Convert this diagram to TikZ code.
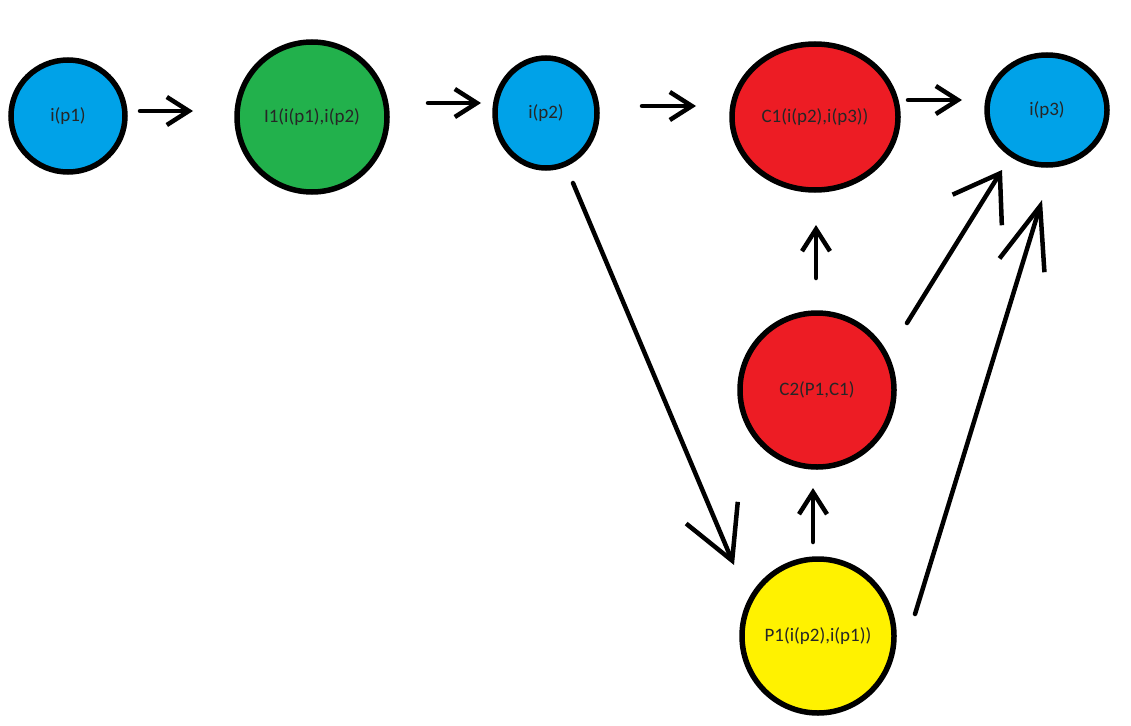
\documentclass[tikz,border=0pt]{standalone}
\usepackage{fontspec}
\setmainfont{Carlito}
\usetikzlibrary{shapes.geometric,arrows.meta,calc}

\definecolor{pblue}{RGB}{0,162,232}
\definecolor{pgreen}{RGB}{34,177,76}
\definecolor{pred}{RGB}{237,28,36}
\definecolor{pyellow}{RGB}{255,242,0}

\tikzset{
  blob/.style={ellipse, draw=black, line width=5.5pt, inner sep=0pt,
    font=\fontsize{19}{23}\selectfont, text=black!85},
  link/.style={line width=4.5pt, line cap=round, line join=round,
    -{Straight Barb[length=22pt,width=28pt]}},
}

\begin{document}
\begin{tikzpicture}[x=1pt,y=-1pt]
\useasboundingbox (0,0) rectangle (1131,725);

% operation nodes
\node[blob, fill=pblue, minimum width=114pt, minimum height=112pt] (ip1) at (68,116) {\makebox[0pt]{i(p1)}};
\node[blob, fill=pgreen, minimum width=150pt, minimum height=150pt] (I1) at (312,117) {\makebox[0pt]{I1(i(p1),i(p2)}};
\node[blob, fill=pblue, minimum width=102pt, minimum height=110pt] (ip2) at (546,113) {\makebox[0pt]{i(p2)}};
\node[blob, fill=pred, minimum width=166pt, minimum height=146pt] (C1) at (815,117) {\makebox[0pt]{C1(i(p2),i(p3))}};
\node[blob, fill=pblue, minimum width=120pt, minimum height=110pt] (ip3) at (1047,110) {\makebox[0pt]{i(p3)}};
\node[blob, fill=pred, minimum width=154pt, minimum height=154pt] (C2) at (817,390) {\makebox[0pt]{C2(P1,C1)}};
\node[blob, fill=pyellow, minimum width=152pt, minimum height=154pt] (P1) at (818,636) {\makebox[0pt]{P1(i(p2),i(p1))}};

% top row
\draw[link] ($(ip1)+(72,-5)$) -- ($(I1)+(-119,-6)$);
\draw[link] ($(I1)+(116,-14)$) -- ($(ip2)+(-65,-10)$);
\draw[link] ($(ip2)+(96,-7)$) -- ($(C1)+(-119,-11)$);
\draw[link] ($(C1)+(93,-17)$) -- ($(ip3)+(-85,-10)$);

% diagonal and vertical links
\draw[link, -{Straight Barb[length=52pt,width=56pt]}] ($(ip2)+(27,70)$) -- ($(P1)+(-84,-71)$);
\draw[link] ($(C2)+(-1,-112)$) -- ($(C1)+(1,108)$);
\draw[link] ($(P1)+(-5,-94)$) -- ($(C2)+(-4,98)$);
\draw[link, -{Straight Barb[length=43pt,width=58pt]}] ($(C2)+(90,-67)$) -- ($(ip3)+(-45,60)$);
\draw[link, -{Straight Barb[length=62pt,width=47pt]}] ($(P1)+(97,-22)$) -- ($(ip3)+(-5,90)$);
\end{tikzpicture}
\end{document}
